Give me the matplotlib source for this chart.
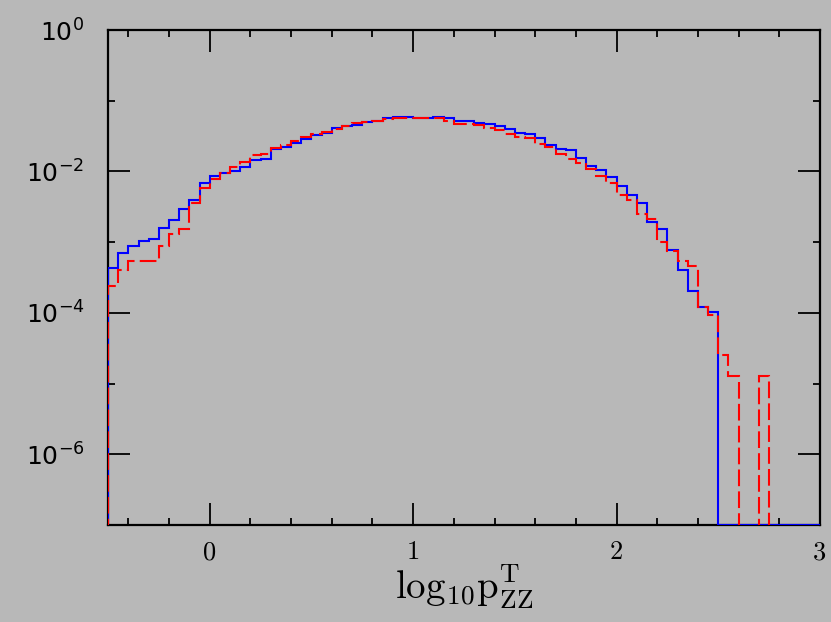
import numpy as np
import matplotlib
matplotlib.use("Agg")
import matplotlib.pyplot as plt
from matplotlib.ticker import MultipleLocator, NullFormatter

# 70 bins of width 0.05 between -0.5 and 3.0
edges = np.round(np.linspace(-0.5, 3.0, 71), 3)

# normalised bin contents (0 = empty bin)
blue = [4.37e-4, 7.08e-4, 8.9e-4, 1.05e-3, 1.12e-3, 1.58e-3, 2.04e-3, 2.95e-3, 3.98e-3, 6.76e-3,
        8.7e-3, 9.55e-3, 1.0e-2, 1.17e-2, 1.43e-2, 1.51e-2, 2.07e-2, 2.19e-2, 2.51e-2, 2.88e-2,
        3.31e-2, 3.55e-2, 4.07e-2, 4.32e-2, 4.57e-2, 5.07e-2, 5.25e-2, 5.62e-2, 5.96e-2, 5.89e-2,
        5.75e-2, 5.75e-2, 5.89e-2, 5.62e-2, 5.25e-2, 5.25e-2, 4.79e-2, 4.68e-2, 4.32e-2, 3.98e-2,
        3.55e-2, 3.39e-2, 2.95e-2, 2.40e-2, 2.09e-2, 2.0e-2, 1.55e-2, 1.20e-2, 1.05e-2, 8.3e-3,
        6.2e-3, 4.57e-3, 3.63e-3, 1.95e-3, 1.51e-3, 7.8e-4, 3.98e-4, 2.04e-4, 1.20e-4, 1.02e-4,
        0, 0, 0, 0, 0, 0, 0, 0, 0, 0]

red = [2.40e-4, 3.98e-4, 5.37e-4, 5.37e-4, 5.50e-4, 8.7e-4, 1.29e-3, 1.55e-3, 3.55e-3, 5.75e-3,
       7.94e-3, 9.55e-3, 1.17e-2, 1.35e-2, 1.68e-2, 1.78e-2, 2.14e-2, 2.34e-2, 2.69e-2, 3.02e-2,
       3.39e-2, 3.63e-2, 3.98e-2, 4.42e-2, 4.79e-2, 5.07e-2, 5.25e-2, 5.56e-2, 5.75e-2, 5.75e-2,
       5.62e-2, 5.75e-2, 5.62e-2, 5.19e-2, 4.68e-2, 4.68e-2, 4.47e-2, 4.17e-2, 3.80e-2, 3.39e-2,
       3.02e-2, 2.95e-2, 2.45e-2, 2.19e-2, 1.78e-2, 1.51e-2, 1.32e-2, 1.07e-2, 8.7e-3, 6.84e-3,
       4.57e-3, 3.89e-3, 2.51e-3, 2.14e-3, 1.0e-3, 7.6e-4, 5.50e-4, 4.57e-4, 1.20e-4, 9.3e-5,
       2.57e-5, 1.29e-5, 0, 0, 1.29e-5, 0, 0, 0, 0, 0]

bg = "#b8b8b8"
ymin, ymax = 1e-7, 1.0

fig = plt.figure(figsize=(8.31, 6.22), dpi=100, facecolor=bg)
ax = fig.add_axes([108 / 831, 1 - 525 / 622, 712 / 831, 495 / 622])
ax.set_facecolor(bg)

b = np.array(blue)
r = np.array(red)
# empty blue bins sit on the bottom edge, empty red bins drop out of view
ax.stairs(np.where(b > 0, b, ymin), edges, baseline=ymin,
          color="#0000ff", lw=1.5, zorder=3)
ax.stairs(np.where(r > 0, r, 1e-9), edges, baseline=1e-9,
          color="#ff0000", lw=1.5, linestyle=(0, (8, 2.5)), zorder=3.5)

ax.set_yscale("log")
ax.set_xlim(-0.5, 3.0)
ax.set_ylim(ymin, ymax)

ax.set_yticks([1e-6, 1e-4, 1e-2, 1])
ax.set_yticks([1e-7, 1e-5, 1e-3, 1e-1], minor=True)
ax.yaxis.set_minor_formatter(NullFormatter())
ax.set_xticks([0, 1, 2, 3], labels=["0", "1", "2", "3"])
ax.xaxis.set_minor_locator(MultipleLocator(0.2))

ax.tick_params(which="both", direction="in", top=True, right=True,
               color="black", width=1.3)
ax.tick_params(which="major", length=15.5)
ax.tick_params(which="minor", length=5)
ax.tick_params(axis="x", labelsize=19, labelfontfamily="cmr10", pad=11)
ax.tick_params(axis="y", labelsize=18, pad=17)

for s in ax.spines.values():
    s.set_linewidth(1.6)
    s.set_color("black")

ax.set_xlabel(r"$\mathrm{log_{10}p_{ZZ}^{T}}$", fontsize=28,
              math_fontfamily="cm", labelpad=-1)

fig.savefig("out.png", dpi=100, facecolor=bg)
